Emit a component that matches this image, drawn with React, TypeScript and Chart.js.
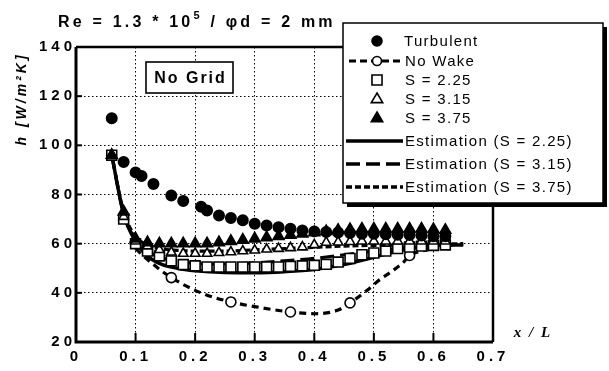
import React, { useEffect, useRef } from 'react';
import { Chart, registerables } from 'chart.js';

Chart.register(...registerables);

// ---------- data ----------
const xTickLabels = ['0', '0.1', '0.2', '0.3', '0.4', '0.5', '0.6', '0.7'];
const yTickLabels = ['20', '40', '60', '80', '100', '120', '140'];

const turbulentX = [0.06, 0.08, 0.10, 0.11, 0.13, 0.16, 0.18, 0.21, 0.22, 0.24, 0.26, 0.28, 0.30, 0.32, 0.34, 0.36, 0.38, 0.40, 0.42, 0.44, 0.46, 0.48, 0.50, 0.52, 0.54, 0.56, 0.58, 0.60, 0.62];
const turbulentY = [111, 93.2, 89, 87.5, 84.3, 79.6, 77.4, 75, 73.5, 71.5, 70.4, 69.5, 68.1, 67.4, 66.7, 66.1, 65.4, 65, 64.7, 64.5, 64.3, 64, 64, 63.8, 63.6, 63.5, 63.3, 63, 63];

const noWakeLineX = [0.10, 0.12, 0.16, 0.21, 0.26, 0.31, 0.36, 0.40, 0.44, 0.46, 0.49, 0.51, 0.53, 0.55, 0.56, 0.58, 0.60];
const noWakeLineY = [58, 53.5, 46.2, 40, 36.3, 34, 32.2, 31.5, 33, 35.9, 41.3, 45.4, 48.7, 52.5, 55.2, 57, 58];
const noWakeMarkX = [0.16, 0.26, 0.36, 0.46, 0.56];
const noWakeMarkY = [46.2, 36.3, 32.2, 35.9, 55.2];

const sX = [0.06, 0.08, 0.10, 0.12, 0.14, 0.16, 0.18, 0.20, 0.22, 0.24, 0.26, 0.28, 0.30, 0.32, 0.34, 0.36, 0.38, 0.40, 0.42, 0.44, 0.46, 0.48, 0.50, 0.52, 0.54, 0.56, 0.58, 0.60, 0.62];
const s225Y = [96, 70, 60, 57, 55, 53, 51.5, 51, 50.5, 50.5, 50.5, 50.5, 50.5, 50.5, 50.5, 50.8, 51, 51.2, 51.6, 52.5, 54, 55.5, 56.2, 57, 58, 58.6, 59, 59.3, 59.5];
const s315Y = [96, 71, 61, 59, 57.5, 56.5, 56, 56, 56, 56.3, 56.6, 57, 57.3, 57.7, 58, 58.3, 58.6, 59.5, 60.5, 60.6, 60.8, 61, 61, 61, 61, 61, 61, 61, 61];
const s375Y = [96, 73, 62, 60.5, 60, 60, 60, 60, 60, 60.5, 61, 61.5, 62, 62.5, 63, 63.5, 64, 64.5, 65, 65.5, 65.8, 66, 66, 66, 66, 66, 66, 65.8, 65.5];

const estX = [0.06, 0.08, 0.10, 0.12, 0.14, 0.17, 0.20, 0.25, 0.30, 0.35, 0.40, 0.45, 0.50, 0.55, 0.60, 0.65];
const est225Y = [96, 72, 61, 55, 52, 50, 49, 48.3, 48.2, 48.6, 49.5, 51.5, 54.5, 57.5, 59.3, 59.5];
const est315Y = [96, 72, 62, 57, 54.5, 53, 52, 51.8, 52.2, 53, 54, 55.5, 57, 58.3, 59.3, 59.8];
const est375Y = [96, 73, 63, 59.5, 58, 57.3, 57, 57, 57.5, 58, 58.5, 59, 59.3, 59.5, 59.8, 60];

const legendLabels = ['Turbulent', 'No Wake', 'S = 2.25', 'S = 3.15', 'S = 3.75', 'Estimation (S = 2.25)', 'Estimation (S = 3.15)', 'Estimation (S = 3.75)'];
const titleMain = 'Re = 1.3 * 10';
const titleSup = '5';
const titleRest = ' / \u03c6d = 2 mm';
const yTitle = 'h [W/m\u00b2K]';
const xTitle = 'x / L';
const boxLabel = 'No Grid';

const pts = (xs: number[], ys: number[]) => xs.map((x, i) => ({ x, y: ys[i] }));

const SANS = '"Liberation Sans", Arial, sans-serif';

function drawMarker(ctx: CanvasRenderingContext2D, kind: string, x: number, y: number, r: number, filled: boolean) {
  ctx.save();
  ctx.beginPath();
  if (kind === 'circle') ctx.arc(x, y, r, 0, Math.PI * 2);
  else if (kind === 'rect') ctx.rect(x - r * 0.72, y - r * 0.72, r * 1.44, r * 1.44);
  else if (kind === 'triangle') {
    ctx.moveTo(x, y - r);
    ctx.lineTo(x + r * 0.95, y + r * 0.6);
    ctx.lineTo(x - r * 0.95, y + r * 0.6);
    ctx.closePath();
  }
  ctx.fillStyle = filled ? '#000' : '#fff';
  ctx.fill();
  ctx.lineWidth = 1.6;
  ctx.strokeStyle = '#000';
  ctx.stroke();
  ctx.restore();
}

const decorPlugin = {
  id: 'decor',
  beforeDraw(chart: any) {
    const ctx = chart.ctx as any;
    ctx.save();
    ctx.fillStyle = '#fff';
    ctx.fillRect(0, 0, chart.width, chart.height);
    ctx.restore();
    ctx.letterSpacing = '4px';
  },
  beforeDatasetsDraw(chart: any) {
    (chart.ctx as any).letterSpacing = '0px';
  },
  afterDraw(chart: any) {
    const ctx = chart.ctx as any;
    const ca = chart.chartArea;
    const xs = chart.scales.x;
    const ys = chart.scales.y;
    ctx.save();
    ctx.strokeStyle = '#000';
    ctx.fillStyle = '#000';
    ctx.setLineDash([]);
    // frame
    ctx.lineWidth = 3;
    ctx.beginPath();
    ctx.moveTo(ca.left, ca.top);
    ctx.lineTo(ca.left, ca.bottom);
    ctx.lineTo(ca.right, ca.bottom);
    ctx.stroke();
    ctx.lineWidth = 2.5;
    ctx.beginPath();
    ctx.moveTo(ca.left, ca.top);
    ctx.lineTo(ca.right, ca.top);
    ctx.lineTo(ca.right, ca.bottom);
    ctx.stroke();
    // inner ticks
    ctx.lineWidth = 2;
    for (let i = 1; i < xTickLabels.length - 1; i++) {
      const px = xs.getPixelForValue(Number(xTickLabels[i]));
      ctx.beginPath();
      ctx.moveTo(px, ca.bottom);
      ctx.lineTo(px, ca.bottom - 9);
      ctx.stroke();
    }
    for (let i = 1; i < yTickLabels.length - 1; i++) {
      const py = ys.getPixelForValue(Number(yTickLabels[i]));
      ctx.beginPath();
      ctx.moveTo(ca.left, py);
      ctx.lineTo(ca.left + 6, py);
      ctx.stroke();
    }

    // title
    ctx.letterSpacing = '3.2px';
    ctx.font = `bold 16px ${SANS}`;
    ctx.textBaseline = 'alphabetic';
    ctx.textAlign = 'left';
    let tx = 58;
    ctx.fillText(titleMain, tx, 27);
    tx += ctx.measureText(titleMain).width;
    ctx.font = `bold 11px ${SANS}`;
    ctx.fillText(titleSup, tx, 19);
    tx += ctx.measureText(titleSup).width;
    ctx.font = `bold 16px ${SANS}`;
    ctx.fillText(titleRest, tx, 27);

    // No Grid box
    ctx.letterSpacing = '2px';
    ctx.lineWidth = 1.6;
    ctx.fillStyle = '#fff';
    ctx.fillRect(146, 62, 87, 31);
    ctx.strokeRect(146, 62, 87, 31);
    ctx.fillStyle = '#000';
    ctx.font = `bold 16px ${SANS}`;
    ctx.textAlign = 'center';
    ctx.textBaseline = 'middle';
    ctx.fillText(boxLabel, 190.5, 78.5);

    // y title
    ctx.save();
    ctx.translate(22, 99);
    ctx.rotate(-Math.PI / 2);
    ctx.letterSpacing = '3px';
    ctx.font = `italic bold 14px ${SANS}`;
    ctx.textAlign = 'center';
    ctx.textBaseline = 'middle';
    ctx.fillText(yTitle, 0, 0);
    ctx.restore();

    // x title
    ctx.letterSpacing = '2px';
    ctx.font = 'italic bold 15px "Liberation Serif", serif';
    ctx.textAlign = 'center';
    ctx.textBaseline = 'middle';
    ctx.fillText(xTitle, 533, 333);

    // legend
    const lx = 343, ly = 23, lw = 260, lh = 180;
    ctx.fillStyle = '#000';
    ctx.fillRect(lx + 4, ly + 4, lw, lh);
    ctx.fillStyle = '#fff';
    ctx.fillRect(lx, ly, lw, lh);
    ctx.lineWidth = 1.5;
    ctx.strokeRect(lx, ly, lw, lh);
    const rowsY = [41, 61, 80, 99, 118, 141, 164, 187];
    const mx = 377;
    ctx.font = `15px ${SANS}`;
    ctx.letterSpacing = '1.3px';
    ctx.textAlign = 'left';
    ctx.textBaseline = 'middle';
    ctx.fillStyle = '#000';
    legendLabels.forEach((lab, i) => {
      const y = rowsY[i];
      ctx.fillStyle = '#000';
      ctx.fillText(lab, i === 0 ? 404 : 405, y + 1);
    });
    // samples
    drawMarker(ctx, 'circle', mx, rowsY[0], 5, true);
    ctx.lineWidth = 3;
    ctx.setLineDash([7, 4]);
    ctx.beginPath();
    ctx.moveTo(349, rowsY[1]);
    ctx.lineTo(404, rowsY[1]);
    ctx.stroke();
    ctx.setLineDash([]);
    drawMarker(ctx, 'circle', mx, rowsY[1], 4.5, false);
    drawMarker(ctx, 'rect', mx, rowsY[2], 7, false);
    drawMarker(ctx, 'triangle', mx, rowsY[3], 6, false);
    drawMarker(ctx, 'triangle', mx, rowsY[4], 6, true);
    const dashes = [[], [14, 6], [6, 3]];
    dashes.forEach((d, k) => {
      ctx.setLineDash(d);
      ctx.lineWidth = 3.5;
      ctx.beginPath();
      ctx.moveTo(346, rowsY[5 + k]);
      ctx.lineTo(403, rowsY[5 + k]);
      ctx.stroke();
    });
    ctx.setLineDash([]);
    ctx.restore();
    ctx.letterSpacing = '0px';
  },
};

export default function App() {
  const ref = useRef<HTMLCanvasElement | null>(null);

  useEffect(() => {
    if (!ref.current) return;
    const markerBase = { showLine: false, borderColor: '#000', pointBorderWidth: 1.6, pointHoverRadius: 0 };
    const chart = new Chart(ref.current, {
      type: 'line',
      data: {
        datasets: [
          { ...markerBase, label: 'Turbulent', data: pts(turbulentX, turbulentY), pointStyle: 'circle', pointRadius: 5.2, pointBackgroundColor: '#000', pointBorderColor: '#000' },
          { ...markerBase, label: 'S = 3.75', data: pts(sX, s375Y), pointStyle: 'triangle', pointRadius: 6.3, pointBackgroundColor: '#000', pointBorderColor: '#000' },
          { ...markerBase, label: 'S = 3.15', data: pts(sX, s315Y), pointStyle: 'triangle', pointRadius: 5.5, pointBackgroundColor: '#fff', pointBorderColor: '#000' },
          { ...markerBase, label: 'S = 2.25', data: pts(sX, s225Y), pointStyle: 'rect', pointRadius: 7, pointBackgroundColor: '#fff', pointBorderColor: '#000' },
          { ...markerBase, label: 'No Wake marks', data: pts(noWakeMarkX, noWakeMarkY), pointStyle: 'circle', pointRadius: 5, pointBackgroundColor: '#fff', pointBorderColor: '#000' },
          { label: 'No Wake', data: pts(noWakeLineX, noWakeLineY), borderColor: '#000', borderWidth: 3.2, borderDash: [7, 5], pointRadius: 0, cubicInterpolationMode: 'monotone', fill: false },
          { label: 'Est 3.75', data: pts(estX, est375Y), borderColor: '#000', borderWidth: 3.2, borderDash: [6, 3], pointRadius: 0, cubicInterpolationMode: 'monotone', fill: false },
          { label: 'Est 3.15', data: pts(estX, est315Y), borderColor: '#000', borderWidth: 3.2, borderDash: [14, 6], pointRadius: 0, cubicInterpolationMode: 'monotone', fill: false },
          { label: 'Est 2.25', data: pts(estX, est225Y), borderColor: '#000', borderWidth: 3.5, pointRadius: 0, cubicInterpolationMode: 'monotone', fill: false },
        ] as any,
      },
      options: {
        animation: false,
        responsive: false,
        events: [],
        layout: { padding: { left: 0, top: 47, right: 116, bottom: 0 } },
        plugins: { legend: { display: false }, tooltip: { enabled: false }, title: { display: false } },
        scales: {
          x: {
            type: 'linear',
            min: 0,
            max: 0.7,
            afterFit: (s: any) => { s.height = 29; },
            afterBuildTicks: (s: any) => { s.ticks = xTickLabels.map((t) => ({ value: Number(t) })); },
            ticks: {
              stepSize: 0.1,
              padding: 6,
              color: '#000',
              font: { family: SANS, size: 15, weight: 'bold' },
              callback: (_v: any, i: number) => xTickLabels[i],
            },
            grid: { color: '#000', lineWidth: 1, drawTicks: false },
            border: { display: false, dash: [1.5, 2.5] },
          },
          y: {
            type: 'linear',
            min: 20,
            max: 140,
            afterFit: (s: any) => { s.width = 76; },
            afterBuildTicks: (s: any) => { s.ticks = yTickLabels.map((t) => ({ value: Number(t) })); },
            ticks: {
              stepSize: 20,
              padding: 0,
              color: '#000',
              font: { family: SANS, size: 15, weight: 'bold' },
              callback: (_v: any, i: number) => yTickLabels[i],
            },
            grid: { color: '#000', lineWidth: 1, drawTicks: false },
            border: { display: false, dash: [1.5, 2.5] },
          },
        },
      } as any,
      plugins: [decorPlugin],
    });
    return () => chart.destroy();
  }, []);

  return (
    <div style={{ position: 'fixed', left: 0, top: 0, width: 609, height: 371, background: '#fff' }}>
      <canvas ref={ref} width={609} height={371} style={{ display: 'block', width: 609, height: 371 }} />
    </div>
  );
}
